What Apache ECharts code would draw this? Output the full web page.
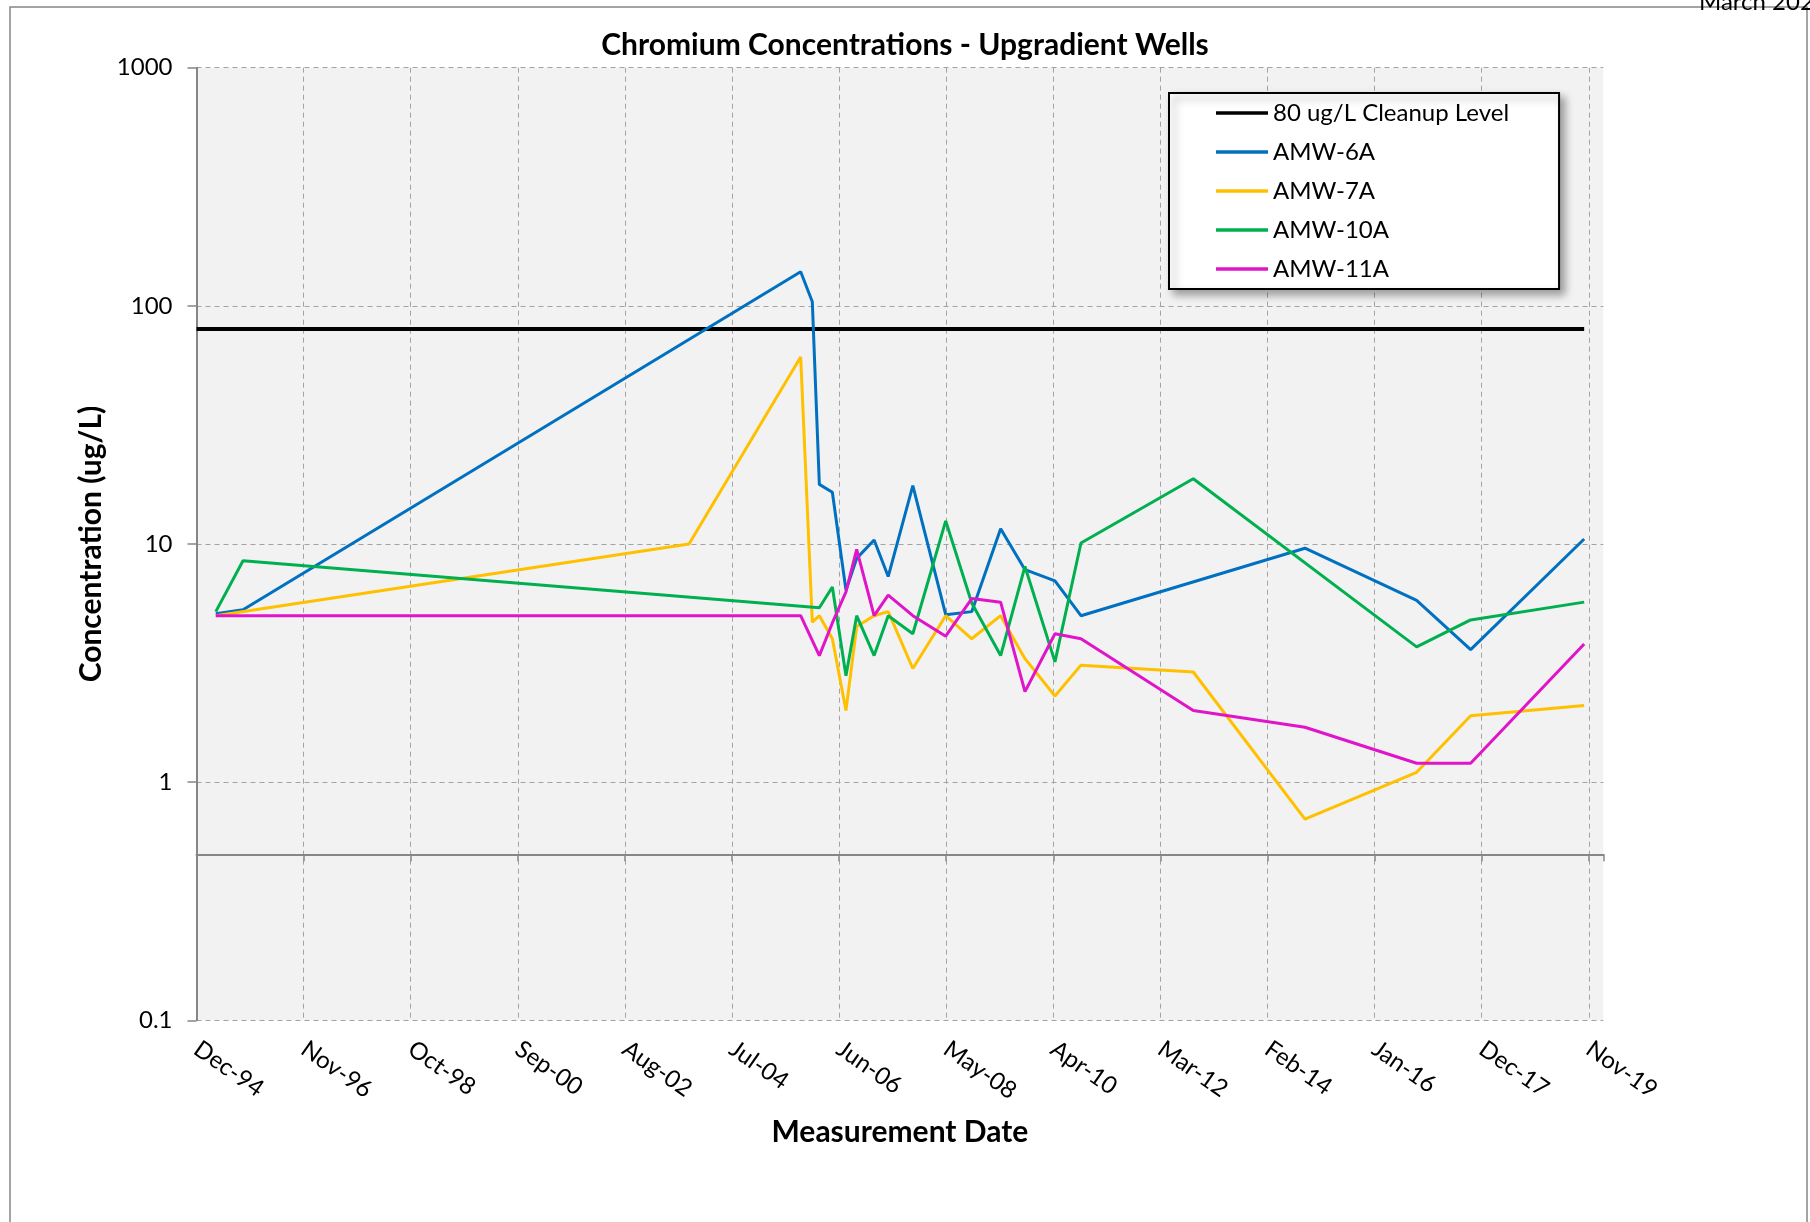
<!DOCTYPE html>
<html>
<head>
<meta charset="utf-8">
<script src="https://cdn.jsdelivr.net/npm/echarts@6/dist/echarts.min.js"></script>
<style>
  html, body { margin: 0; padding: 0; background: #fff; }
  #chart { width: 1810px; height: 1222px; }
</style>
</head>
<body>
<div id="chart"></div>
<script>
// sample dates (approximate)
const dates = [
  '1995-04-10', '1995-10-05', '2003-09-28', '2005-09-27', '2005-12-12', '2006-01-27',
  '2006-04-22', '2006-07-20', '2006-09-28', '2007-01-20', '2007-04-22', '2007-09-30',
  '2008-05-02', '2008-10-19', '2009-04-26', '2009-10-02', '2010-04-16', '2010-10-03',
  '2012-10-06', '2014-10-06', '2016-10-05', '2017-09-23', '2019-10-05',
]
const amw6a = [5.1, 5.3, null, 139, 104, 17.8, 16.5, 6.4, 8.7, 10.4, 7.3, 17.6, 5.05, 5.2, 11.6, 7.8, 7.0, 5.0, null, 9.6, 5.8, 3.6, 10.5]
const amw7a = [5.0, null, 10.0, 61, 4.7, 5.0, 4.0, 2.0, 4.5, 5.0, 5.2, 3.0, 5.0, 4.0, 5.0, 3.3, 2.3, 3.1, 2.9, 0.7, 1.1, 1.9, 2.1]
const amw10a = [5.2, 8.5, null, null, null, 5.4, 6.6, 2.8, 5.0, 3.4, 5.0, 4.2, 12.5, 5.65, 3.4, 8.05, 3.2, 10.1, 18.8, null, 3.7, 4.8, 5.7]
const amw11a = [5.0, 5.0, null, 5.0, null, 3.4, 4.66, 6.3, 9.5, 5.0, 6.1, 5.0, 4.1, 5.9, 5.7, 2.4, 4.2, 4.0, 2.0, 1.7, 1.2, 1.2, 3.8]
const cleanupDates = ['1994-12-05', '2019-10-05']
const cleanupLevel = 80
const yTicks = [0.1, 1, 10, 100, 1000]

const MONTHS = ['Jan', 'Feb', 'Mar', 'Apr', 'May', 'Jun', 'Jul', 'Aug', 'Sep', 'Oct', 'Nov', 'Dec']
const BASE = Date.UTC(1994, 11, 5)
const DAY = 864e5
const toDay = (s) => Math.round((Date.parse(s) - BASE) / DAY)
const fmtDay = (v) => {
  const d = new Date(BASE + v * DAY)
  return MONTHS[d.getUTCMonth()] + '-' + String(d.getUTCFullYear()).slice(2)
}
const pts = (vals) => dates.map((d, i) => [toDay(d), vals[i]]).filter((p) => p[1] != null)

const FONT = 'Lato'
const gray = '#868686'
const gridLine = { type: [5, 4], color: '#a3a3a3', width: 1 }
const X_MAX = 9195

const line = (name, data, color, width) => ({
  name, type: 'line', data, symbol: 'none', animation: false,
  lineStyle: { color, width }, itemStyle: { color },
})

const chart = echarts.init(document.getElementById('chart'))
chart.setOption({
  backgroundColor: '#fff',
  textStyle: { fontFamily: FONT },
  title: {
    text: 'Chromium Concentrations - Upgradient Wells',
    left: 'center', top: 25,
    textStyle: { fontFamily: FONT, fontWeight: 'bold', fontSize: 30, color: '#000' },
  },
  legend: {
    orient: 'vertical', left: 1169, top: 93, icon: 'rect',
    padding: [8, 50, 8, 47], itemGap: 15, itemWidth: 52, itemHeight: 3.5,
    backgroundColor: '#fff', borderColor: '#000', borderWidth: 2,
    shadowBlur: 8, shadowOffsetX: 5, shadowOffsetY: 5, shadowColor: 'rgba(0,0,0,0.35)',
    textStyle: { fontFamily: FONT, fontSize: 24, color: '#000', lineHeight: 24 },
    data: ['80 ug/L Cleanup Level', 'AMW-6A', 'AMW-7A', 'AMW-10A', 'AMW-11A'],
  },
  grid: { left: 196.5, top: 67.7, width: 1406.8, height: 952.6, show: true, backgroundColor: '#f2f2f2', borderWidth: 0 },
  xAxis: [
    {
      type: 'value', min: 0, max: X_MAX, interval: 700, position: 'bottom',
      axisLine: { show: false, onZero: false }, axisTick: { show: false },
      axisLabel: {
        rotate: -35, margin: 26, fontFamily: FONT, fontSize: 24, color: '#000',
        formatter: (v) => (v % 700 ? '' : fmtDay(v)),
      },
      splitLine: { show: true, showMaxLine: false, lineStyle: gridLine },
      name: 'Measurement Date', nameLocation: 'middle', nameGap: 97,
      nameTextStyle: { fontFamily: FONT, fontWeight: 'bold', fontSize: 30, color: '#000' },
    },
    {
      type: 'value', min: 0, max: X_MAX, interval: 700, position: 'bottom', offset: -166,
      axisLine: { show: true, onZero: false, lineStyle: { color: gray, width: 2 } },
      axisTick: { show: true, length: 7, lineStyle: { color: gray, width: 1.5 } },
      axisLabel: { show: false }, splitLine: { show: false },
    },
  ],
  yAxis: {
    type: 'log', logBase: 10, min: yTicks[0], max: yTicks[yTicks.length - 1],
    axisLine: { show: true, onZero: false, lineStyle: { color: gray, width: 2 } },
    axisTick: { show: true, length: 9, lineStyle: { color: gray, width: 1.5 } },
    axisLabel: { margin: 24, fontFamily: FONT, fontSize: 24, color: '#000', formatter: (v) => String(v) },
    splitLine: { show: true, lineStyle: gridLine },
    name: 'Concentration (ug/L)', nameLocation: 'middle', nameRotate: 90, nameGap: 84,
    nameTextStyle: { fontFamily: FONT, fontWeight: 'bold', fontSize: 30, color: '#000' },
  },
  series: [
    line('80 ug/L Cleanup Level', cleanupDates.map((d) => [toDay(d), cleanupLevel]), '#000', 4),
    line('AMW-6A', pts(amw6a), '#0070c0', 3),
    line('AMW-7A', pts(amw7a), '#ffc000', 3),
    line('AMW-10A', pts(amw10a), '#00b050', 3),
    line('AMW-11A', pts(amw11a), '#e014c8', 3),
  ],
  graphic: [
    { type: 'rect', shape: { x: 10, y: 7, width: 1797, height: 1300 }, style: { fill: 'none', stroke: gray, lineWidth: 1.5 }, silent: true },
    { type: 'text', x: 1699, y: 14, style: { text: 'March 2020', fill: '#000', font: '24px Lato', verticalAlign: 'bottom' }, silent: true },
  ],
})
</script>
</body>
</html>
